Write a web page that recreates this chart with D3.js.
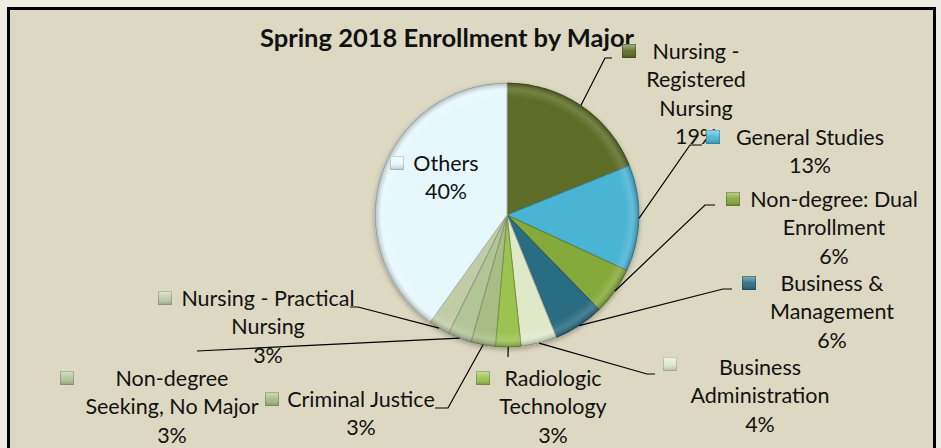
<!DOCTYPE html>
<html>
<head>
<meta charset="utf-8">
<title>Spring 2018 Enrollment by Major</title>
<script src="https://d3js.org/d3.v7.min.js"></script>
<style>
  html, body { margin: 0; padding: 0; background: #eeebe0; }
  svg { display: block; }
  text { font-family: Lato, "Open Sans", sans-serif; fill: #111; }
</style>
</head>
<body>
<svg id="chart" width="941" height="448"></svg>
<script>
// Data (share of enrollment, %)
const majors = [
  "Nursing - Registered Nursing", "General Studies", "Non-degree: Dual Enrollment",
  "Business & Management", "Business Administration", "Radiologic Technology",
  "Criminal Justice", "Non-degree Seeking, No Major", "Nursing - Practical Nursing", "Others"
];
const shares = [18.9, 13.0, 5.8, 6.2, 4.4, 3.1, 3.0, 2.9, 2.6, 40.1];
const colors = ["#5d6d28", "#4ab4d4", "#86a93a", "#2c6c82", "#dfe9c9",
                "#9cc24f", "#a8bd83", "#b3c497", "#c1cba6", "#e7f8fd"];

// How each label is broken into lines
const labelLines = [
  ["Nursing -", "Registered", "Nursing"],
  ["General Studies"],
  ["Non-degree: Dual", "Enrollment"],
  ["Business &", "Management"],
  ["Business", "Administration"],
  ["Radiologic", "Technology"],
  ["Criminal Justice"],
  ["Non-degree", "Seeking, No Major"],
  ["Nursing - Practical", "Nursing"],
  ["Others"]
];

// Label layout: marker centre, text centre x, first line centre y, leader elbow points
const labelLayout = [
  {mx: 629, my: 51,  tx: 696, ty: 51,  leader: [[605, 58], [612, 58]]},
  {mx: 713, my: 137, tx: 810, ty: 137, leader: [[690, 145], [702, 145]]},
  {mx: 733, my: 199, tx: 834, ty: 199, leader: [[705, 205], [715, 205]]},
  {mx: 749, my: 283, tx: 832, ty: 283, leader: [[723, 289], [732, 289]]},
  {mx: 670, my: 364, tx: 760, ty: 367, leader: [[647, 374], [655, 374]]},
  {mx: 483, my: 378, tx: 553, ty: 378, leader: [[508, 357]]},
  {mx: 272, my: 399, tx: 361, ty: 399, leader: [[448, 408], [435, 408]]},
  {mx: 67,  my: 378, tx: 172, ty: 378, leader: [[197, 351]]},
  {mx: 165, my: 298, tx: 268, ty: 298, leader: [[358, 307], [350, 307]]},
  {mx: 397, my: 163, tx: 446, ty: 163, leader: null}
];

const svg = d3.select("#chart");
const cx = 507, cy = 215, r = 132;
const lineH = 28.5;

const defs = svg.append("defs");

// Soft shadow under the pie
const shadow = defs.append("filter").attr("id", "shadow")
    .attr("x", "-10%").attr("y", "-10%").attr("width", "120%").attr("height", "120%");
shadow.append("feDropShadow")
    .attr("dx", 0).attr("dy", 2).attr("stdDeviation", 2.5)
    .attr("flood-color", "#000").attr("flood-opacity", 0.3);

// Bevel at the rim of the pie (local coords of the pie group)
const rim = defs.append("radialGradient").attr("id", "rim")
    .attr("gradientUnits", "userSpaceOnUse")
    .attr("cx", 0).attr("cy", 0).attr("r", r);
rim.append("stop").attr("offset", "0.89").attr("stop-color", "#fff").attr("stop-opacity", 0);
rim.append("stop").attr("offset", "0.95").attr("stop-color", "#fff").attr("stop-opacity", 0.14);
rim.append("stop").attr("offset", "1").attr("stop-color", "#000").attr("stop-opacity", 0.25);

// Marker gloss
const gloss = defs.append("linearGradient").attr("id", "gloss")
    .attr("x1", 0).attr("y1", 0).attr("x2", 0).attr("y2", 1);
gloss.append("stop").attr("offset", "0").attr("stop-color", "#fff").attr("stop-opacity", 0.45);
gloss.append("stop").attr("offset", "0.5").attr("stop-color", "#fff").attr("stop-opacity", 0.05);
gloss.append("stop").attr("offset", "1").attr("stop-color", "#000").attr("stop-opacity", 0.2);

// Chart area and frame
svg.append("rect")
    .attr("x", 8.5).attr("y", 8.5).attr("width", 926).attr("height", 460)
    .attr("fill", "#ddd8c1")
    .attr("stroke", "#000").attr("stroke-width", 3);

// Title
svg.append("text")
    .attr("x", 447).attr("y", 47)
    .attr("text-anchor", "middle")
    .style("font-weight", "bold")
    .style("font-size", "25.5px")
    .text("Spring 2018 Enrollment by Major");

// Pie
const pie = d3.pie().sort(null).value(d => d);
const arcs = pie(shares);
const arc = d3.arc().innerRadius(0).outerRadius(r);

const g = svg.append("g").attr("transform", `translate(${cx},${cy})`);

g.append("g").attr("filter", "url(#shadow)")
  .selectAll("path")
  .data(arcs)
  .join("path")
    .attr("d", arc)
    .attr("fill", (d, i) => colors[i])
    .attr("stroke", (d, i) => d3.color(colors[i]).darker(0.8))
    .attr("stroke-width", 1);

g.append("g")
  .selectAll("path")
  .data(arcs)
  .join("path")
    .attr("d", arc)
    .attr("fill", "url(#rim)");

// Leader lines
svg.append("g")
  .selectAll("path")
  .data(arcs.filter((d, i) => labelLayout[i].leader))
  .join("path")
    .attr("d", d => {
      const a = (d.startAngle + d.endAngle) / 2;
      const start = [cx + r * Math.sin(a), cy - r * Math.cos(a)];
      return d3.line()([start].concat(labelLayout[d.index].leader));
    })
    .attr("fill", "none")
    .attr("stroke", "#000")
    .attr("stroke-width", 1.2);

// Labels
const total = d3.sum(shares);
const labels = svg.append("g").selectAll("g")
  .data(arcs)
  .join("g");

labels.append("rect")
    .attr("x", d => labelLayout[d.index].mx - 6.5)
    .attr("y", d => labelLayout[d.index].my - 6.5)
    .attr("width", 13).attr("height", 13)
    .attr("fill", d => colors[d.index])
    .attr("stroke", d => d3.color(colors[d.index]).darker(0.6))
    .attr("stroke-width", 1);

labels.append("rect")
    .attr("x", d => labelLayout[d.index].mx - 6.5)
    .attr("y", d => labelLayout[d.index].my - 6.5)
    .attr("width", 13).attr("height", 13)
    .attr("fill", "url(#gloss)");

labels.each(function(d) {
  const lay = labelLayout[d.index];
  const lines = labelLines[d.index].concat([Math.round(shares[d.index] / total * 100) + "%"]);
  d3.select(this).append("text")
      .attr("text-anchor", "middle")
      .style("font-size", "21.5px")
    .selectAll("tspan")
    .data(lines)
    .join("tspan")
      .attr("x", lay.tx)
      .attr("y", (t, j) => lay.ty + 7.5 + j * lineH)
      .text(t => t);
});
</script>
</body>
</html>
